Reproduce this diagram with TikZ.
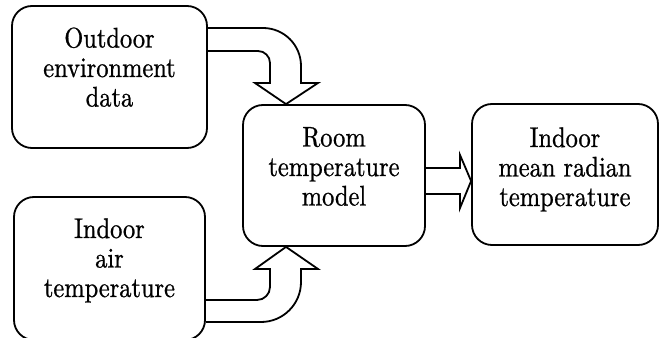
\documentclass[tikz,border=0pt]{standalone}
\usepackage{fontspec}
\newfontfamily\lmfont{lmroman10-regular.otf}[FakeBold=0.8, FakeStretch=0.86]
\begin{document}
\begin{tikzpicture}[x=1pt,y=1pt,
  box/.style={draw=black, line width=1.8pt, rounded corners=20pt, inner sep=0pt, fill=white},
  lbl/.style={align=center, inner sep=0pt, font=\lmfont\fontsize{28.4}{29.5}\selectfont},
  blockarrow/.style={draw=black, line width=1.8pt, line join=miter}]
\useasboundingbox (0,0) rectangle (660,337);
\clip (0,0) rectangle (660,337);
% boxes
\node[box, minimum width=195, minimum height=142] (out) at (109.5,260) {};
\node[box, minimum width=191, minimum height=143] (air) at (109.5,68.5) {};
\node[box, minimum width=182, minimum height=141] (room) at (334,161.5) {};
\node[box, minimum width=186, minimum height=141] (mrt) at (565,162.5) {};
% labels
\node[lbl] (outT) at (109.5,265.9) {\strut Outdoor\\environment\\data\strut};
\node[lbl] (airT) at (109.5,75.4) {\strut Indoor\\air\\temperature\strut};
\node[lbl] (roomT) at (334,166.9) {\strut Room\\temperature\\model\strut};
\node[lbl] (mrtT) at (565,166.4) {\strut Indoor\\mean radian\\temperature\strut};
% top block arrow: out -> room
\draw[blockarrow] (out.east |- 0,309) -- (263,309) arc (90:0:38) -- (301,254) -- (318,254)
  -- (286,0 |- room.north) -- (255,254) -- (270,254) -- (270,274) arc (0:90:12) -- (out.east |- 0,286);
% bottom block arrow: air -> room
\draw[blockarrow] (air.east |- 0,15) -- (261,15) arc (-90:0:40) -- (301,68) -- (318,68)
  -- (286,0 |- room.south) -- (255,68) -- (270,68) -- (270,50) arc (0:-90:13) -- (air.east |- 0,37);
% right block arrow: room -> mrt
\draw[blockarrow] (room.east |- 0,169) -- (460,169) -- (460,182) -- (mrt.west |- 0,156)
  -- (460,129) -- (460,143) -- (room.east |- 0,143);
\end{tikzpicture}
\end{document}
